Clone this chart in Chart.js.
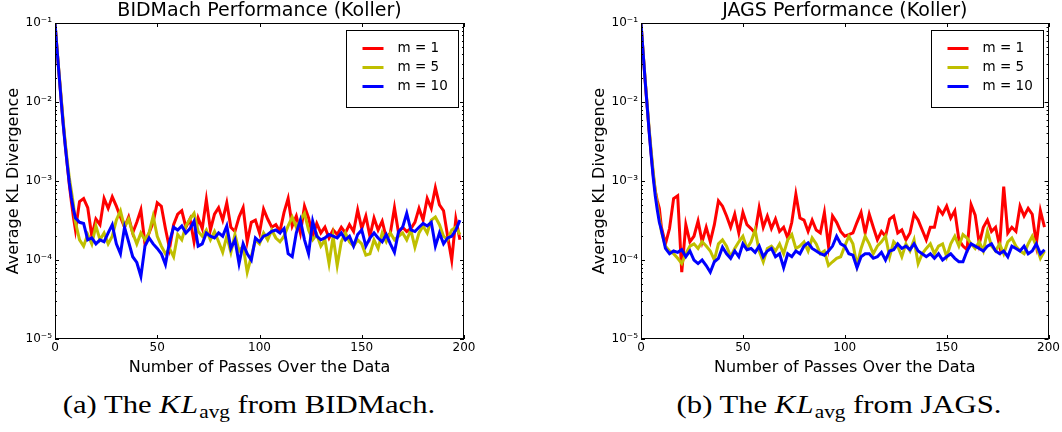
<!DOCTYPE html>
<html>
<head>
<meta charset="utf-8">
<script src="https://cdn.jsdelivr.net/npm/chart.js@4.4.1/dist/chart.umd.min.js"></script>
<style>
  body { margin: 0; background: #fff; width: 1062px; height: 432px; position: relative; overflow: hidden; }
  .panel { position: absolute; top: 0; height: 380px; }
  .caption { position: absolute; top: 392px; font-family: "Liberation Serif", serif; font-size: 26px; line-height: 26px; white-space: nowrap; transform: translateX(-50%) scaleX(1.18); color: #000; }
  .caption i { font-style: italic; letter-spacing: 1px; }
  .caption sub { font-size: 18px; vertical-align: -5px; }
</style>
</head>
<body>
<div class="panel" style="left:0;width:531px"><canvas id="chart_bidmach"></canvas></div>
<div class="panel" style="left:586px;width:476px"><canvas id="chart_jags"></canvas></div>
<div class="caption" style="left:249px">(a) The <i>KL</i><sub>avg</sub> from BIDMach.</div>
<div class="caption" style="left:839px">(b) The <i>KL</i><sub>avg</sub> from JAGS.</div>
<script>
// number of passes (x values)
var passes = [0, 1, 2, 3, 4, 5, 6, 7, 8, 9, 10,
  12, 14, 16, 18, 20, 22, 24, 26, 28, 30, 32, 34, 36, 38, 40, 42, 44, 46, 48, 50,
  52, 54, 56, 58, 60, 62, 64, 66, 68, 70, 72, 74, 76, 78, 80, 82, 84, 86, 88, 90,
  92, 94, 96, 98, 100, 102, 104, 106, 108, 110, 112, 114, 116, 118, 120, 122, 124, 126, 128, 130,
  132, 134, 136, 138, 140, 142, 144, 146, 148, 150, 152, 154, 156, 158, 160, 162, 164, 166, 168, 170,
  172, 174, 176, 178, 180, 182, 184, 186, 188, 190, 192, 194, 196, 198];

// BIDMach, average KL divergence
var bidM1 = [1e-1, 4.6e-2, 2.2e-2, 1.1e-2, 5.4e-3, 2.9e-3, 1.6e-3, 9e-4, 5.5e-4, 3.5e-4, 2.4e-4,
  5.5e-4, 6e-4, 4.6e-4, 2e-4, 3.3e-4, 2.8e-4, 6e-4, 4.5e-4, 6.3e-4, 4.8e-4, 3.5e-4, 2.6e-4, 3.5e-4, 2.2e-4, 3e-4, 4.3e-4, 1.6e-4, 2.2e-4, 3e-4, 5.3e-4,
  4.8e-4, 2.5e-4, 1.4e-4, 2.8e-4, 3.8e-4, 4.2e-4, 2.6e-4, 3.3e-4, 1.7e-4, 3.4e-4, 2.5e-4, 5.8e-4, 2.4e-4, 3.8e-4, 4.6e-4, 3.2e-4, 5.3e-4, 2.6e-4, 2.3e-4, 3.5e-4,
  4.6e-4, 1.7e-4, 3e-4, 3.2e-4, 2.2e-4, 4.4e-4, 3.3e-4, 2.6e-4, 2.8e-4, 2.3e-4, 4e-4, 6e-4, 2.7e-4, 3.6e-4, 2.2e-4, 4.8e-4, 3.4e-4, 2e-4, 2.9e-4, 2.2e-4,
  2.6e-4, 1.9e-4, 2.4e-4, 2.1e-4, 2.6e-4, 2.2e-4, 2.8e-4, 2.3e-4, 4.3e-4, 2.5e-4, 3.6e-4, 2e-4, 3.4e-4, 2.4e-4, 3.1e-4, 1.9e-4, 2.2e-4, 4.6e-4, 2.2e-4, 2.6e-4,
  2.3e-4, 2.5e-4, 3e-4, 4.5e-4, 3.2e-4, 6e-4, 4.5e-4, 8.2e-4, 5e-4, 4.2e-4, 2e-4, 1e-4, 3.3e-4, 1.8e-4];
var bidM5 = [1e-1, 4.7e-2, 2.3e-2, 1.15e-2, 5.8e-3, 3.1e-3, 1.8e-3, 1.1e-3, 7.5e-4, 5e-4, 3e-4,
  1.8e-4, 1.5e-4, 2.1e-4, 1.6e-4, 2.7e-4, 1.8e-4, 2.2e-4, 1.6e-4, 2e-4, 3.2e-4, 4.2e-4, 2.6e-4, 3.3e-4, 2.2e-4, 1.6e-4, 2.2e-4, 1.8e-4, 2.2e-4, 3.6e-4, 2e-4,
  1.5e-4, 1.2e-4, 1.4e-4, 1.1e-4, 2.1e-4, 1.8e-4, 2.7e-4, 3.3e-4, 3.9e-4, 2.3e-4, 2e-4, 2.4e-4, 1.8e-4, 2.3e-4, 1.7e-4, 1.25e-4, 2e-4, 1.25e-4, 2.1e-4, 1.3e-4,
  1.5e-4, 7e-5, 1.1e-4, 1.8e-4, 1.6e-4, 2.2e-4, 1.8e-4, 2.4e-4, 1.9e-4, 1.7e-4, 2e-4, 2.7e-4, 3.5e-4, 2.6e-4, 3.2e-4, 3.9e-4, 2.4e-4, 1.8e-4, 2.1e-4, 1.5e-4,
  1.8e-4, 9e-5, 2e-4, 8.5e-5, 1.7e-4, 2.2e-4, 1.7e-4, 1.5e-4, 1.8e-4, 1.6e-4, 1.15e-4, 1.2e-4, 1.8e-4, 1.4e-4, 2.2e-4, 1.7e-4, 2.2e-4, 1.8e-4, 2e-4, 2.2e-4,
  1.8e-4, 2.4e-4, 1.45e-4, 2.2e-4, 2.7e-4, 2.2e-4, 3.2e-4, 3.5e-4, 2.8e-4, 2e-4, 1.8e-4, 2.4e-4, 2.6e-4, 2.1e-4];
var bidM10 = [1e-1, 4.6e-2, 2.2e-2, 1.05e-2, 5.2e-3, 2.8e-3, 1.6e-3, 9.5e-4, 6.2e-4, 4.4e-4, 3.4e-4,
  3e-4, 2.9e-4, 1.8e-4, 1.9e-4, 1.6e-4, 1.8e-4, 1.7e-4, 2.2e-4, 2.8e-4, 1.6e-4, 1.2e-4, 2.6e-4, 1.7e-4, 1.1e-4, 9.3e-5, 6.2e-5, 1.5e-4, 1.9e-4, 1.6e-4, 1.4e-4,
  1.2e-4, 8.8e-5, 1.7e-4, 2.6e-4, 2.4e-4, 2.7e-4, 2.2e-4, 2.5e-4, 3.1e-4, 1.5e-4, 1.6e-4, 2.2e-4, 2e-4, 1.9e-4, 2.2e-4, 2e-4, 2.7e-4, 1.4e-4, 1.8e-4, 9e-5,
  1.6e-4, 1.2e-4, 1e-4, 1.9e-4, 1.7e-4, 2e-4, 2.1e-4, 2.3e-4, 2.4e-4, 2.2e-4, 2.5e-4, 1.2e-4, 1.1e-4, 2.2e-4, 3.2e-4, 1.8e-4, 1.2e-4, 3.1e-4, 2e-4, 1.8e-4,
  1.9e-4, 2.1e-4, 2e-4, 1.9e-4, 2.2e-4, 1.8e-4, 2e-4, 1.5e-4, 2.1e-4, 2.4e-4, 1.5e-4, 1.9e-4, 2.2e-4, 1.9e-4, 1.7e-4, 2.1e-4, 1.6e-4, 1.25e-4, 2.3e-4, 2.6e-4,
  3.9e-4, 2.4e-4, 2.3e-4, 2.6e-4, 2.9e-4, 2.7e-4, 3e-4, 1.5e-4, 2.2e-4, 1.6e-4, 1.9e-4, 2e-4, 2.4e-4, 3.2e-4];

// JAGS, average KL divergence
var jagsM1 = [1e-1, 4.3e-2, 1.9e-2, 9e-3, 4.3e-3, 2.2e-3, 1.2e-3, 7.5e-4, 5.6e-4, 4.5e-4, 2.6e-4,
  1.6e-4, 2.5e-4, 6e-4, 6.5e-4, 7e-5, 2.8e-4, 1.7e-4, 2e-4, 3.1e-4, 1.7e-4, 2.6e-4, 1.7e-4, 2.8e-4, 5.6e-4, 4.8e-4, 3.6e-4, 2.6e-4, 3.8e-4, 2.2e-4, 4e-4,
  2.8e-4, 2.5e-4, 2.2e-4, 4.6e-4, 2.6e-4, 3.6e-4, 2.5e-4, 3.3e-4, 2.3e-4, 2.6e-4, 1.9e-4, 3e-4, 6.8e-4, 3.4e-4, 3.2e-4, 2.3e-4, 3.2e-4, 2.4e-4, 2.2e-4, 4e-4,
  1.5e-4, 3.6e-4, 3e-4, 2.3e-4, 2e-4, 2.1e-4, 2.2e-4, 3e-4, 4e-4, 2.2e-4, 3.8e-4, 2.6e-4, 1.8e-4, 2.3e-4, 2e-4, 3.3e-4, 3.6e-4, 2.2e-4, 2.4e-4, 1.8e-4,
  2.2e-4, 3.8e-4, 3.2e-4, 2.4e-4, 1.8e-4, 2.6e-4, 2.6e-4, 4.5e-4, 3.8e-4, 4.8e-4, 3.4e-4, 4.2e-4, 1.8e-4, 1.5e-4, 1.35e-4, 5e-4, 3.7e-4, 1.6e-4, 2.6e-4, 3.2e-4,
  2.3e-4, 2.6e-4, 1.5e-4, 8.5e-4, 2.2e-4, 2.6e-4, 2.3e-4, 4.8e-4, 3.6e-4, 4.5e-4, 3.8e-4, 1.6e-4, 4.2e-4, 2.6e-4];
var jagsM5 = [1e-1, 4.4e-2, 2e-2, 9.5e-3, 4.6e-3, 2.4e-3, 1.3e-3, 7.5e-4, 5e-4, 3.4e-4, 2.3e-4,
  1.5e-4, 1.3e-4, 1.2e-4, 1.05e-4, 9e-5, 1.2e-4, 1.5e-4, 1.6e-4, 1.4e-4, 1.7e-4, 1.5e-4, 1.3e-4, 1e-4, 1.6e-4, 1.8e-4, 1.5e-4, 1.1e-4, 1.4e-4, 1.7e-4, 2e-4,
  1.4e-4, 1.7e-4, 2.4e-4, 1.3e-4, 9.5e-5, 1.4e-4, 1.5e-4, 1.3e-4, 1.6e-4, 1.2e-4, 1.8e-4, 2.1e-4, 1.4e-4, 1.5e-4, 1.7e-4, 1.3e-4, 1.9e-4, 1.6e-4, 1.2e-4, 1.3e-4,
  8.5e-5, 9.5e-5, 1.05e-4, 1.1e-4, 1.5e-4, 2e-4, 1.6e-4, 8.5e-5, 1.4e-4, 2e-4, 1.6e-4, 1.2e-4, 1.5e-4, 1.7e-4, 2e-4, 1.1e-4, 1.7e-4, 1.5e-4, 1.1e-4, 1.6e-4,
  1.3e-4, 1.8e-4, 9e-5, 1.2e-4, 1.4e-4, 1.6e-4, 1.2e-4, 1.5e-4, 1.6e-4, 1.1e-4, 1.6e-4, 2e-4, 1.5e-4, 2.1e-4, 1.9e-4, 1.6e-4, 1.4e-4, 1.7e-4, 1.3e-4, 2.3e-4,
  1.5e-4, 1.3e-4, 1.6e-4, 1.2e-4, 1.7e-4, 1.9e-4, 1.5e-4, 1.3e-4, 1.2e-4, 1.6e-4, 2e-4, 1.5e-4, 1.05e-4, 1.3e-4];
var jagsM10 = [1e-1, 4.3e-2, 1.9e-2, 9e-3, 4.2e-3, 2.1e-3, 1.1e-3, 6.5e-4, 4.3e-4, 3e-4, 2.4e-4,
  1.4e-4, 1.2e-4, 1.3e-4, 1.25e-4, 1.35e-4, 1.1e-4, 1.3e-4, 1e-4, 9e-5, 1e-4, 8.5e-5, 7e-5, 9.5e-5, 1.05e-4, 1.45e-4, 1.2e-4, 1.05e-4, 1.3e-4, 1.1e-4, 1.6e-4,
  1.35e-4, 1.4e-4, 1.25e-4, 1.5e-4, 1.1e-4, 1.3e-4, 1.4e-4, 1.1e-4, 1.2e-4, 8e-5, 1.2e-4, 1.1e-4, 1.3e-4, 1.2e-4, 1.5e-4, 1.65e-4, 1.4e-4, 1.3e-4, 1.2e-4, 1.15e-4,
  1.3e-4, 1.5e-4, 2e-4, 1.6e-4, 1.5e-4, 1.2e-4, 1.15e-4, 8e-5, 1.1e-4, 1.2e-4, 1.2e-4, 1.05e-4, 1.1e-4, 1.25e-4, 1e-4, 1.3e-4, 1.35e-4, 1.6e-4, 1.4e-4, 1.5e-4,
  1.35e-4, 1.6e-4, 1.3e-4, 1.2e-4, 1.1e-4, 1.2e-4, 1.05e-4, 1.2e-4, 1e-4, 1.1e-4, 1.2e-4, 1.05e-4, 9.5e-5, 9.5e-5, 1.3e-4, 1.6e-4, 1.5e-4, 1.4e-4, 1.3e-4, 1.5e-4,
  1.6e-4, 1.3e-4, 1.2e-4, 1.3e-4, 1.1e-4, 1.5e-4, 1.4e-4, 1.3e-4, 1.5e-4, 1.2e-4, 1.3e-4, 1.6e-4, 1.2e-4, 1.35e-4];

var seriesLabels = ['m = 1', 'm = 5', 'm = 10'];
var seriesColors = ['#ff0000', '#bfbf00', '#0000ff'];
var xTicks = [0, 50, 100, 150, 200];
var yTicks = [1e-5, 1e-4, 1e-3, 1e-2, 1e-1];
var yTickLabels = ['10\u207b\u2075', '10\u207b\u2074', '10\u207b\u00b3', '10\u207b\u00b2', '10\u207b\u00b9'];

Chart.defaults.font.family = '"DejaVu Sans", sans-serif';
Chart.defaults.color = '#000';

// title centred over the plot area (not the whole canvas)
var plotTitle = {
  id: 'plotTitle',
  afterDraw: function (chart, args, opts) {
    var ctx = chart.ctx, a = chart.chartArea;
    ctx.save();
    ctx.font = '19px "DejaVu Sans"';
    ctx.fillStyle = '#000';
    ctx.textAlign = 'center';
    ctx.textBaseline = 'middle';
    ctx.fillText(opts.text, (a.left + a.right) / 2, 11.5);
    ctx.restore();
  }
};

// frame with inward ticks on all four sides, like the matplotlib classic style
var framePlugin = {
  id: 'framePlugin',
  afterDatasetsDraw: function (chart) {
    var ctx = chart.ctx, a = chart.chartArea, xs = chart.scales.x, ys = chart.scales.y;
    ctx.save();
    ctx.strokeStyle = '#000';
    ctx.lineWidth = 1;
    ctx.beginPath();
    xTicks.forEach(function (v) {
      var px = Math.round(xs.getPixelForValue(v)) + 0.5;
      ctx.moveTo(px, a.bottom); ctx.lineTo(px, a.bottom - 4);
      ctx.moveTo(px, a.top); ctx.lineTo(px, a.top + 4);
    });
    var hTick = function (val, len) {
      var py = Math.round(ys.getPixelForValue(val)) + 0.5;
      ctx.moveTo(a.left, py); ctx.lineTo(a.left + len, py);
      ctx.moveTo(a.right, py); ctx.lineTo(a.right - len, py);
    };
    yTicks.forEach(function (v, i) {
      hTick(v, 4);
      if (i < yTicks.length - 1) {
        for (var k = 2; k <= 9; k++) hTick(v * k, 2);
      }
    });
    ctx.stroke();
    ctx.strokeRect(Math.round(a.left) + 0.5, Math.round(a.top) + 0.5, Math.round(a.width) - 1, Math.round(a.height) - 1);
    ctx.restore();
  }
};

// boxed legend in the upper right of the plot area
var boxLegend = {
  id: 'boxLegend',
  afterDraw: function (chart) {
    var ctx = chart.ctx, a = chart.chartArea;
    var w = 112, h = 77;
    var left = Math.round(a.right - 6 - w) + 0.5, top = Math.round(a.top + 7) + 0.5;
    ctx.save();
    ctx.fillStyle = '#fff';
    ctx.fillRect(left, top, w, h);
    ctx.strokeStyle = '#000';
    ctx.lineWidth = 1;
    ctx.strokeRect(left, top, w, h);
    ctx.font = '13.5px "DejaVu Sans"';
    ctx.textBaseline = 'middle';
    chart.data.datasets.forEach(function (ds, i) {
      var cy = top + 18 + i * 19;
      ctx.strokeStyle = ds.borderColor;
      ctx.lineWidth = 3;
      ctx.beginPath();
      ctx.moveTo(left + 16, cy);
      ctx.lineTo(left + 37, cy);
      ctx.stroke();
      ctx.fillStyle = '#000';
      ctx.fillText(ds.label, left + 51, cy);
    });
    ctx.restore();
  }
};

function makeChart(id, title, series, rightPad) {
  return new Chart(document.getElementById(id), {
    type: 'line',
    data: {
      datasets: series.map(function (vals, i) {
        return {
          label: seriesLabels[i],
          data: passes.map(function (x, j) { return { x: x, y: vals[j] }; }),
          borderColor: seriesColors[i],
          backgroundColor: seriesColors[i],
          borderWidth: 3,
          pointRadius: 0,
          tension: 0,
          order: series.length - i
        };
      })
    },
    options: {
      animation: false,
      responsive: true,
      maintainAspectRatio: false,
      layout: { padding: { left: 0, right: rightPad, top: 23, bottom: 0 } },
      plugins: {
        legend: { display: false },
        tooltip: { enabled: false },
        title: { display: false },
        plotTitle: { text: title }
      },
      scales: {
        x: {
          type: 'linear',
          min: 0,
          max: 200,
          afterBuildTicks: function (s) { s.ticks = xTicks.map(function (v) { return { value: v }; }); },
          afterFit: function (s) { s.height = 41; },
          grid: { display: false, drawTicks: false },
          border: { display: false },
          ticks: { padding: 2, maxRotation: 0, autoSkip: false, font: { size: 12 }, color: '#000' },
          title: { display: true, text: 'Number of Passes Over the Data', font: { size: 16 }, padding: { top: 0, bottom: 3 } }
        },
        y: {
          type: 'logarithmic',
          min: 1e-5,
          max: 1e-1,
          afterBuildTicks: function (s) { s.ticks = yTicks.map(function (v) { return { value: v }; }); },
          afterFit: function (s) { s.width = 55; },
          grid: { display: false, drawTicks: false },
          border: { display: false },
          ticks: {
            padding: 3,
            autoSkip: false,
            font: { size: 12 },
            color: '#000',
            callback: function (v, i) { return yTickLabels[i]; }
          },
          title: { display: true, text: 'Average KL Divergence', font: { size: 16 }, padding: { top: 4, bottom: 0 } }
        }
      }
    },
    plugins: [framePlugin, boxLegend, plotTitle]
  });
}

var chart_bidmach = makeChart('chart_bidmach', 'BIDMach Performance (Koller)', [bidM1, bidM5, bidM10], 67);
var chart_jags = makeChart('chart_jags', 'JAGS Performance (Koller)', [jagsM1, jagsM5, jagsM10], 12);
</script>
</body>
</html>
